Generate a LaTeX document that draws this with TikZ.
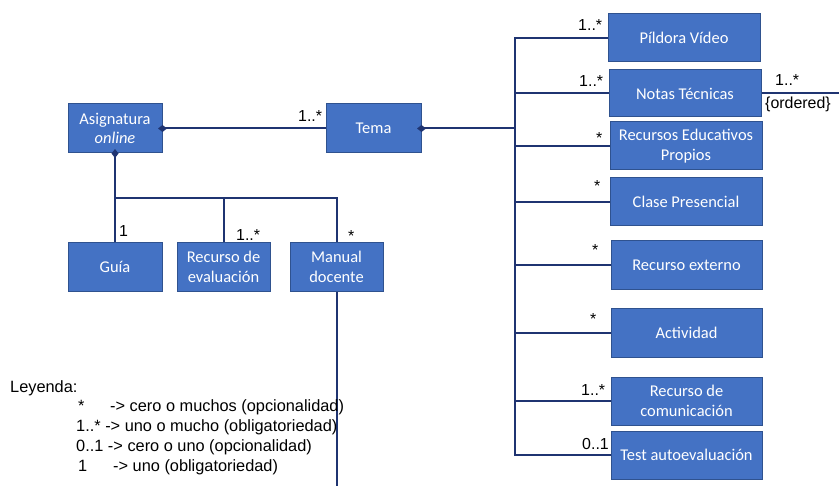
\documentclass[tikz,border=0pt]{standalone}
\usepackage{fontspec}
\setmainfont{Liberation Sans}
\newfontfamily\boxfont{Carlito}
\usetikzlibrary{arrows.meta}
\definecolor{boxblue}{HTML}{4472C4}
\definecolor{boxedge}{HTML}{2F528F}
\definecolor{linecol}{HTML}{1F3471}
\begin{document}
\begin{tikzpicture}[x=1bp,y=-1bp,
  box/.style={draw=boxedge, line width=1bp, fill=boxblue, text=white,
    font=\boxfont\fontsize{16.5}{19.5}\selectfont, align=center,
    inner sep=0pt, minimum height=48bp},
  conn/.style={draw=linecol, line width=2bp},
  comp/.style={conn, {Diamond[length=9bp,width=7bp]}-, shorten <=-4.5bp},
  mult/.style={anchor=base west, font=\fontsize{16}{19}\selectfont, inner sep=0pt},
  legend/.style={anchor=base west, font=\fontsize{16.4}{19}\selectfont, inner sep=0pt}]
\useasboundingbox (0,0) rectangle (839,486);

% left boxes
\node[box, minimum width=94bp, minimum height=49bp] (asig) at (115,128.5) {Asignatura\\\textit{online}};
\node[box, minimum width=95bp, minimum height=49bp] (tema) at (373.5,128.5) {Tema};
\node[box, minimum width=94bp] (guia) at (115,267) {Guía};
\node[box, minimum width=93bp] (receval) at (223.5,267) {Recurso de\\evaluación};
\node[box, minimum width=93bp] (manual) at (336.5,267) {Manual\\docente};

% right boxes
\node[box, minimum width=152bp] (pildora) at (684,38) {Píldora Vídeo};
\node[box, minimum width=152bp, minimum height=47bp] (notas) at (685,93.5) {Notas Técnicas};
\node[box, minimum width=152bp] (rep) at (686,146) {Recursos Educativos\\Propios};
\node[box, minimum width=152bp] (clase) at (686,202) {Clase Presencial};
\node[box, minimum width=151bp] (rext) at (686.5,265) {Recurso externo};
\node[box, minimum width=151bp] (activ) at (686.5,333) {Actividad};
\node[box, minimum width=151bp] (rcom) at (686.5,401) {Recurso de\\comunicación};
\node[box, minimum width=151bp] (test) at (686.5,455) {Test autoevaluación};

% coordinates
\coordinate (bar) at (0,198);
\coordinate (bus) at (515,0);
\coordinate (mend) at (336.5,486);
\coordinate (nend) at (839,93.5);

% left connectors
\draw[comp] (asig.east) -- (tema.west);
\draw[comp] (asig.south) -- (guia.north);
\draw[conn] (asig.south |- bar) -| (manual.north);
\draw[conn] (receval.north) -- (receval.north |- bar);
\draw[conn] (manual.south) -- (mend);

% right connectors
\draw[comp] (tema.east) -- (tema.east -| bus);
\draw[conn] (pildora.west) -| (bus |- test.west) -- (test.west);
\draw[conn] (notas.west) -- (notas.west -| bus);
\draw[conn] (rep.west) -- (rep.west -| bus);
\draw[conn] (clase.west) -- (clase.west -| bus);
\draw[conn] (rext.west) -- (rext.west -| bus);
\draw[conn] (activ.west) -- (activ.west -| bus);
\draw[conn] (rcom.west) -- (rcom.west -| bus);
\draw[conn] (notas.east) -- (nend);

% multiplicities
\node[mult] (m1) at (298,122) {1..*};
\node[mult] (m2) at (119,237) {1};
\node[mult] (m3) at (236,241) {1..*};
\node[mult] (m4) at (348,242) {*};
\node[mult] (m5) at (578,31) {1..*};
\node[mult] (m6) at (579,87) {1..*};
\node[mult] (m7) at (596,143.5) {*};
\node[mult] (m8) at (594,192) {*};
\node[mult] (m9) at (775,86) {1..*};
\node[mult] (m10) at (765,109) {\{ordered\}};
\node[mult] (m11) at (592,256) {*};
\node[mult] (m12) at (590,325) {*};
\node[mult] (m13) at (581,395) {1..*};
\node[mult] (m14) at (582,449) {0..1};

% legend
\node[legend] (ley) at (10,392) {Leyenda:};
\node[legend] (l1) at (78,411) {\makebox[32bp][l]{*}-> cero o muchos (opcionalidad)};
\node[legend] (l2) at (76,431) {1..* -> uno o mucho (obligatoriedad)};
\node[legend] (l3) at (76,451) {0..1 -> cero o uno (opcionalidad)};
\node[legend] (l4) at (78,471) {\makebox[35bp][l]{1}-> uno (obligatoriedad)};
\end{tikzpicture}
\end{document}
